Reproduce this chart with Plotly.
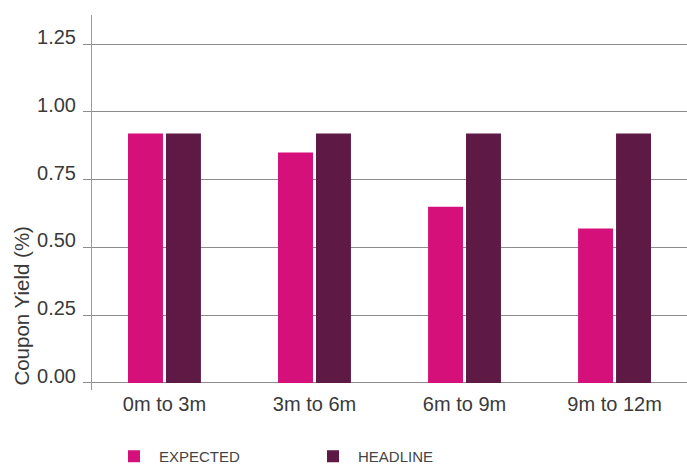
import plotly.graph_objects as go

categories = ["0m to 3m", "3m to 6m", "6m to 9m", "9m to 12m"]
expected = [0.92, 0.85, 0.65, 0.57]
headline = [0.92, 0.92, 0.92, 0.92]
y_ticks = [0.0, 0.25, 0.5, 0.75, 1.0, 1.25]

PINK = "#D6107A"
PURPLE = "#5E1945"
TEXT = "#3a3a3a"
GRID = "#8c8c8c"
FONT = "Liberation Sans, Arial, sans-serif"

fig = go.Figure()
fig.add_trace(go.Bar(x=categories, y=expected, name="EXPECTED", marker_color=PINK,
                     marker_line_width=0, offset=-0.243, width=0.233))
fig.add_trace(go.Bar(x=categories, y=headline, name="HEADLINE", marker_color=PURPLE,
                     marker_line_width=0, offset=0.01, width=0.233))

fig.update_layout(
    width=687, height=464,
    margin=dict(l=92, r=0, t=15, b=74, autoexpand=False),
    paper_bgcolor="white", plot_bgcolor="white",
    font=dict(family=FONT, color=TEXT, size=20),
    barmode="group",
    showlegend=True,
    legend=dict(orientation="h", xref="container", x=109 / 687, xanchor="left",
                yref="container", y=(464 - 456.5) / 464, yanchor="middle",
                font=dict(size=15, color="#444444"), entrywidth=144, entrywidthmode="pixels",
                itemwidth=40, bgcolor="rgba(0,0,0,0)"),
    xaxis=dict(range=[-0.483, 3.483], showline=False, showgrid=False, zeroline=False,
               ticks="", tickfont=dict(size=20, color=TEXT)),
    yaxis=dict(range=[-0.026, 1.357], tickvals=y_ticks, tickformat=".2f",
               showgrid=True, gridcolor=GRID, gridwidth=1,
               zeroline=True, zerolinecolor=GRID, zerolinewidth=1,
               showline=True, linecolor="#999999", linewidth=1,
               ticks="outside", ticklen=8, tickcolor=GRID,
               ticklabelstandoff=3, ticklabelshift=-7,
               tickfont=dict(size=20, color=TEXT)),
    annotations=[dict(text="Coupon Yield (%)", textangle=-90, xref="paper", yref="paper",
                      x=-0.12, y=0.224, xanchor="center", yanchor="middle", showarrow=False,
                      font=dict(size=20.5, color=TEXT))],
)

fig.write_html("out.html")
